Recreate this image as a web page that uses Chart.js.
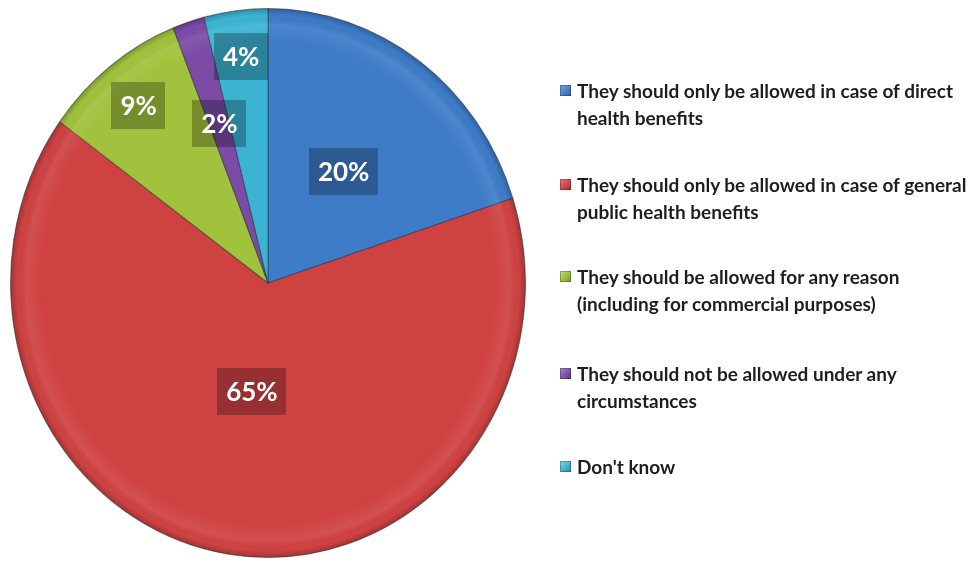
<!DOCTYPE html>
<html>
<head>
<meta charset="utf-8">
<script src="https://cdn.jsdelivr.net/npm/chart.js@4.4.1/dist/chart.umd.min.js"></script>
<style>
  html, body { margin: 0; padding: 0; background: #fff; }
  #wrap { position: relative; width: 977px; height: 563px; overflow: hidden; }
  #pie { position: absolute; left: 0; top: 0; }
  .item { position: absolute; left: 560px; font-family: Lato, "Open Sans", sans-serif; font-weight: bold;
          font-size: 19px; line-height: 27px; color: #1e1e1e; white-space: nowrap; }
  .item .box { position: absolute; left: 0; top: 8px; width: 11px; height: 11px; }
  .item .txt { position: absolute; left: 17px; top: 0; }
</style>
</head>
<body>
<div id="wrap">
  <canvas id="pie" width="977" height="563"></canvas>
  <div id="legend"></div>
</div>
<script>
// Survey answers
var categories = [
  ['They should only be allowed in case of direct', 'health benefits'],
  ['They should only be allowed in case of general', 'public health benefits'],
  ['They should be allowed for any reason', '(including for commercial purposes)'],
  ['They should not be allowed under any', 'circumstances'],
  ["Don't know"]
];
var shares = [20, 65, 9, 2, 4];
var shareLabels = ['20%', '65%', '9%', '2%', '4%'];

var sliceColors = ['#3e7cc8', '#cf4242', '#a1c23c', '#7b4ba6', '#3bb4d2'];
var boxColors   = [['#6fa3e6', '#2c62a8'], ['#ee7373', '#a82b2b'], ['#c4e070', '#789a25'],
                   ['#a682cf', '#5a3285'], ['#7ed6ec', '#2690ab']];

// how far out each label sits, as a share of the radius
var labelDepth = [0.5, 0.4, 0.82, 0.61, 0.83];
// the pie is drawn slightly taller than wide
var yStretch = 1.066;

var ctx = document.getElementById('pie').getContext('2d');

var pieShape = {
  id: 'pieShape',
  beforeDatasetsDraw: function (chart) {
    var arc = chart.getDatasetMeta(0).data[0];
    var c = chart.ctx;
    c.save();
    c.translate(arc.x, arc.y);
    c.scale(1, yStretch);
    c.translate(-arc.x, -arc.y);
  },
  afterDatasetsDraw: function (chart) {
    var meta = chart.getDatasetMeta(0);
    var c = chart.ctx;
    var a0 = meta.data[0];
    var r = a0.outerRadius;

    // soft bevel round the rim
    var g = c.createRadialGradient(a0.x, a0.y, 0, a0.x, a0.y, r);
    g.addColorStop(0, 'rgba(255,255,255,0)');
    g.addColorStop(0.88, 'rgba(255,255,255,0)');
    g.addColorStop(0.94, 'rgba(255,255,255,0.08)');
    g.addColorStop(0.975, 'rgba(0,0,0,0)');
    g.addColorStop(1, 'rgba(0,0,0,0.22)');
    c.beginPath();
    c.arc(a0.x, a0.y, r, 0, Math.PI * 2);
    c.fillStyle = g;
    c.fill();
    c.restore();

    // value labels on dark boxes
    c.save();
    c.font = 'bold 26px Lato, "Open Sans", sans-serif';
    c.textAlign = 'center';
    c.textBaseline = 'middle';
    meta.data.forEach(function (arc, i) {
      var mid = (arc.startAngle + arc.endAngle) / 2;
      var d = arc.outerRadius * labelDepth[i];
      var px = arc.x + Math.cos(mid) * d;
      var py = arc.y + Math.sin(mid) * d * yStretch;
      var w = c.measureText(shareLabels[i]).width + 18;
      var h = 47;
      c.fillStyle = 'rgba(0,0,0,0.27)';
      c.fillRect(Math.round(px - w / 2), Math.round(py - h / 2), Math.round(w), h);
      c.fillStyle = '#ffffff';
      c.fillText(shareLabels[i], px, py + 1);
    });
    c.restore();
  }
};

var pieChart = new Chart(ctx, {
  type: 'pie',
  data: {
    labels: categories,
    datasets: [{
      data: shares,
      backgroundColor: sliceColors,
      borderColor: 'rgba(20,30,40,0.45)',
      borderWidth: 1
    }]
  },
  options: {
    responsive: false,
    animation: false,
    layout: { padding: { left: 10, right: 451, top: 25, bottom: 22 } },
    plugins: {
      legend: { display: false },
      tooltip: { enabled: false }
    }
  },
  plugins: [pieShape]
});

// legend on the right
var rowTops = [77, 171, 263, 360, 453];
var legend = document.getElementById('legend');
categories.forEach(function (lines, i) {
  var item = document.createElement('div');
  item.className = 'item';
  item.style.top = rowTops[i] + 'px';
  var box = document.createElement('div');
  box.className = 'box';
  box.style.background = 'linear-gradient(135deg, ' + boxColors[i][0] + ', ' + boxColors[i][1] + ')';
  box.style.boxShadow = 'inset 0 0 0 1px rgba(0,0,0,0.25)';
  var txt = document.createElement('div');
  txt.className = 'txt';
  txt.innerHTML = lines.join('<br>');
  item.appendChild(box);
  item.appendChild(txt);
  legend.appendChild(item);
});
</script>
</body>
</html>
